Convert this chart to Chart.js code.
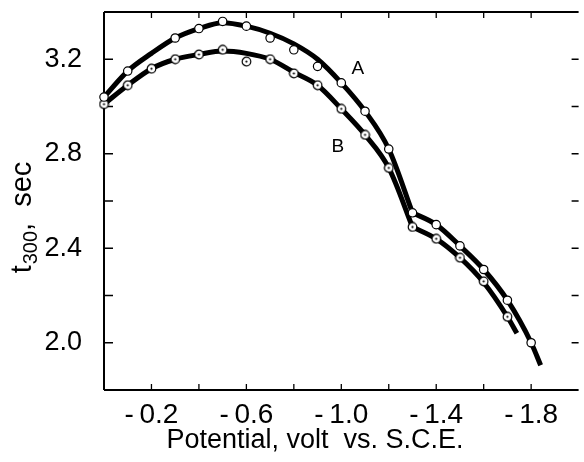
<!DOCTYPE html>
<html>
<head>
  <title>t300 vs potential</title>
  <script src="https://cdn.jsdelivr.net/npm/chart.js"></script>
  <style>
    body { margin: 0; padding: 0; background-color: #ffffff; }
    #wrap { width: 584px; height: 462px; position: relative; }
  </style>
</head>
<body>
  <div id="wrap">
    <canvas id="chart"></canvas>
  </div>

  <script>
    // measured points, curve A (open circles)
    const potA = [0.0, -0.1, -0.3, -0.4, -0.5, -0.6, -0.7, -0.8, -0.9, -1.0, -1.1, -1.2, -1.3, -1.4, -1.5, -1.6, -1.7, -1.8];
    const tA = [3.04, 3.15, 3.29, 3.33, 3.36, 3.34, 3.29, 3.24, 3.17, 3.10, 2.98, 2.82, 2.55, 2.50, 2.41, 2.31, 2.18, 2.00];

    // measured points, curve B (dotted circles)
    const potB = [0.0, -0.1, -0.2, -0.3, -0.4, -0.5, -0.6, -0.7, -0.8, -0.9, -1.0, -1.1, -1.2, -1.3, -1.4, -1.5, -1.6, -1.7];
    const tB = [3.01, 3.09, 3.16, 3.20, 3.22, 3.24, 3.19, 3.20, 3.14, 3.09, 2.99, 2.88, 2.74, 2.49, 2.44, 2.36, 2.26, 2.11];

    // the drawn smooth curves (two pieces each, corner at -1.3 V)
    const lineA1Pot = [0.0, -0.1, -0.2, -0.3, -0.4, -0.5, -0.6, -0.7, -0.8, -0.9, -1.0, -1.1, -1.2, -1.3];
    const lineA1 = [3.04, 3.15, 3.225, 3.29, 3.33, 3.355, 3.34, 3.31, 3.265, 3.20, 3.10, 2.98, 2.82, 2.55];
    const lineA2Pot = [-1.3, -1.4, -1.5, -1.6, -1.7, -1.8, -1.84];
    const lineA2 = [2.55, 2.50, 2.41, 2.31, 2.18, 2.00, 1.905];

    const lineB1Pot = [0.0, -0.1, -0.2, -0.3, -0.4, -0.5, -0.6, -0.7, -0.8, -0.9, -1.0, -1.1, -1.2, -1.3];
    const lineB1 = [3.01, 3.09, 3.16, 3.20, 3.22, 3.235, 3.225, 3.20, 3.145, 3.09, 2.99, 2.88, 2.74, 2.49];
    const lineB2Pot = [-1.3, -1.4, -1.5, -1.6, -1.7, -1.74];
    const lineB2 = [2.49, 2.44, 2.36, 2.255, 2.11, 2.04];

    // labelled ticks
    const xTickLabels = [-0.2, -0.6, -1.0, -1.4, -1.8];
    const yTickLabels = [2.0, 2.4, 2.8, 3.2];

    const FONT = "'Liberation Sans', Arial, sans-serif";

    function pairs(xs, ys) {
      return xs.map((x, i) => ({ x: x, y: ys[i] }));
    }

    // circle with a dot in the middle for series B
    const dotCircle = document.createElement("canvas");
    dotCircle.width = 11;
    dotCircle.height = 11;
    (function () {
      const c = dotCircle.getContext("2d");
      c.beginPath();
      c.arc(5.5, 5.5, 4.3, 0, Math.PI * 2);
      c.fillStyle = "#fff";
      c.fill();
      c.lineWidth = 1.2;
      c.strokeStyle = "#000";
      c.stroke();
      c.beginPath();
      c.arc(5.5, 5.5, 1.1, 0, Math.PI * 2);
      c.fillStyle = "#000";
      c.fill();
    })();

    // inward tick marks, spines and the extra text
    const framePlugin = {
      id: "frame",
      beforeDatasetsDraw(chart) {
        const ctx = chart.ctx;
        const a = chart.chartArea;
        const xs = chart.scales.x;
        const ys = chart.scales.y;
        ctx.save();
        ctx.strokeStyle = "#000";
        ctx.lineWidth = 2;
        ctx.beginPath();
        ctx.moveTo(a.left, a.top);
        ctx.lineTo(a.right, a.top);
        ctx.moveTo(a.left, a.top);
        ctx.lineTo(a.left, a.bottom);
        ctx.moveTo(a.left, a.bottom);
        ctx.lineTo(a.right, a.bottom);
        ctx.stroke();

        ctx.lineWidth = 1.3;
        ctx.beginPath();
        xs.ticks.forEach((t) => {
          const px = xs.getPixelForValue(t.value);
          if (px <= a.left + 2 || px >= a.right - 2) return;
          ctx.moveTo(px, a.bottom);
          ctx.lineTo(px, a.bottom - 6);
          ctx.moveTo(px, a.top);
          ctx.lineTo(px, a.top + 6);
        });
        ys.ticks.forEach((t) => {
          const py = ys.getPixelForValue(t.value);
          if (py <= a.top + 2 || py >= a.bottom - 2) return;
          ctx.moveTo(a.left, py);
          ctx.lineTo(a.left + 9, py);
          ctx.moveTo(a.right, py);
          ctx.lineTo(a.right - 7, py);
        });
        ctx.stroke();
        ctx.restore();
      },
      afterDraw(chart) {
        const ctx = chart.ctx;
        const xs = chart.scales.x;
        const ys = chart.scales.y;
        ctx.save();
        ctx.fillStyle = "#000";

        // curve letters
        ctx.font = "19px " + FONT;
        ctx.textAlign = "center";
        ctx.textBaseline = "middle";
        ctx.fillText("A", xs.getPixelForValue(-1.07), ys.getPixelForValue(3.16));
        ctx.fillText("B", xs.getPixelForValue(-0.985), ys.getPixelForValue(2.83));

        // x axis title
        ctx.font = "27px " + FONT;
        ctx.textBaseline = "alphabetic";
        ctx.fillText("Potential, volt  vs. S.C.E.", 315, 448);

        // y axis title with subscript
        ctx.translate(31, 218);
        ctx.rotate(-Math.PI / 2);
        ctx.textAlign = "left";
        const big = "29px " + FONT;
        const small = "20px " + FONT;
        ctx.font = big;
        const w1 = ctx.measureText("t").width;
        const w3 = ctx.measureText(",  sec").width;
        ctx.font = small;
        const w2 = ctx.measureText("300").width;
        let x0 = -(w1 + w2 + w3) / 2;
        ctx.font = big;
        ctx.fillText("t", x0, 0);
        ctx.font = small;
        ctx.fillText("300", x0 + w1 + 1, 6);
        ctx.font = big;
        ctx.fillText(",  sec", x0 + w1 + w2 + 1, 0);
        ctx.restore();
      },
    };

    function noEdgePadding(scale) {
      scale.paddingTop = 0;
      scale.paddingBottom = 0;
      scale.paddingLeft = 0;
      scale.paddingRight = 0;
    }

    const ctx = document.getElementById("chart").getContext("2d");
    const chart = new Chart(ctx, {
      type: "scatter",
      data: {
        datasets: [
          {
            label: "A",
            data: pairs(potA, tA),
            pointStyle: "circle",
            pointRadius: 4.2,
            pointBackgroundColor: "#fff",
            pointBorderColor: "#000",
            pointBorderWidth: 1.2,
            showLine: false,
            clip: false,
            order: 0,
          },
          {
            label: "B",
            data: pairs(potB, tB),
            pointStyle: dotCircle,
            showLine: false,
            clip: false,
            order: 0,
          },
          {
            label: "A curve 1",
            data: pairs(lineA1Pot, lineA1),
            showLine: true,
            borderColor: "#000",
            borderWidth: 5,
            pointRadius: 0,
            cubicInterpolationMode: "monotone",
            clip: false,
            order: 1,
          },
          {
            label: "A curve 2",
            data: pairs(lineA2Pot, lineA2),
            showLine: true,
            borderColor: "#000",
            borderWidth: 5,
            pointRadius: 0,
            cubicInterpolationMode: "monotone",
            clip: false,
            order: 1,
          },
          {
            label: "B curve 1",
            data: pairs(lineB1Pot, lineB1),
            showLine: true,
            borderColor: "#000",
            borderWidth: 5,
            pointRadius: 0,
            cubicInterpolationMode: "monotone",
            clip: false,
            order: 1,
          },
          {
            label: "B curve 2",
            data: pairs(lineB2Pot, lineB2),
            showLine: true,
            borderColor: "#000",
            borderWidth: 5,
            pointRadius: 0,
            cubicInterpolationMode: "monotone",
            clip: false,
            order: 1,
          },
        ],
      },
      options: {
        responsive: true,
        maintainAspectRatio: false,
        animation: false,
        layout: {
          padding: { top: 12, left: 0, right: 0, bottom: 0 },
        },
        plugins: {
          legend: { display: false },
          tooltip: { enabled: false },
        },
        scales: {
          x: {
            type: "linear",
            min: -2.0,
            max: 0,
            reverse: true,
            border: { display: false },
            grid: { display: false, drawTicks: false },
            ticks: {
              stepSize: 0.2,
              padding: 8,
              autoSkip: false,
              maxRotation: 0,
              minRotation: 0,
              color: "#000",
              font: { family: FONT, size: 28 },
              callback: function (value) {
                const hit = xTickLabels.some((v) => Math.abs(v - value) < 1e-6);
                return hit ? "-\u2009" + Math.abs(value).toFixed(1) : "";
              },
            },
            afterFit: function (scale) {
              scale.height = 72;
              noEdgePadding(scale);
            },
          },
          y: {
            type: "linear",
            min: 1.8,
            max: 3.4,
            border: { display: false },
            grid: { display: false, drawTicks: false },
            ticks: {
              stepSize: 0.2,
              padding: 22,
              autoSkip: false,
              color: "#000",
              font: { family: FONT, size: 27 },
              callback: function (value) {
                const hit = yTickLabels.some((v) => Math.abs(v - value) < 1e-6);
                return hit ? value.toFixed(1) : "";
              },
            },
            afterFit: function (scale) {
              scale.width = 104;
              noEdgePadding(scale);
            },
          },
        },
      },
      plugins: [framePlugin],
    });
  </script>
</body>
</html>
